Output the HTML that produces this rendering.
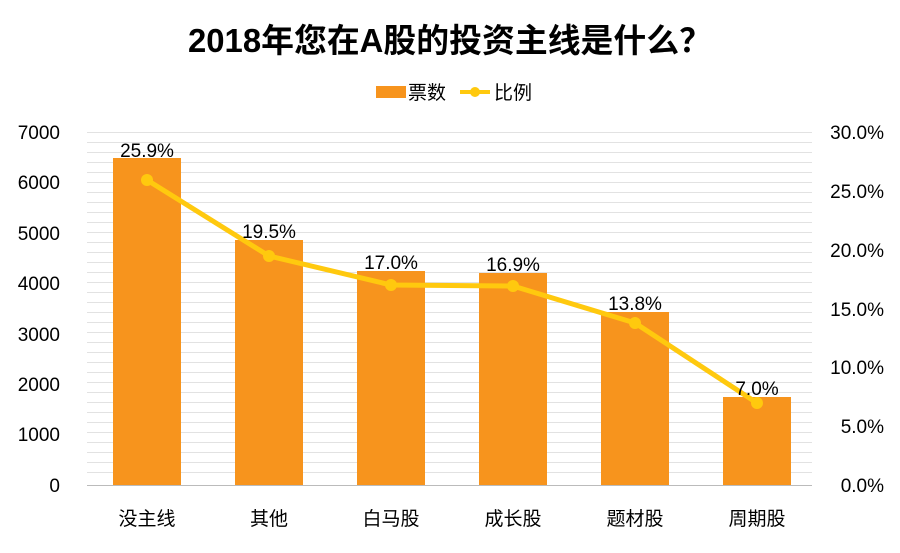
<!DOCTYPE html>
<html><head><meta charset="utf-8"><style>
body{margin:0;background:#fff;width:900px;height:548px;overflow:hidden;font-family:"Liberation Sans","Noto Sans CJK SC",sans-serif}
</style></head><body>
<svg width="900" height="548" xmlns="http://www.w3.org/2000/svg" font-family="Liberation Sans, Noto Sans CJK SC, sans-serif">
<text x="450" y="52" text-anchor="middle" font-size="33" font-weight="bold" fill="#000" textLength="524" lengthAdjust="spacingAndGlyphs">2018年您在A股的投资主线是什么？</text>
<rect x="376" y="86" width="30" height="12" fill="#f7941d"/>
<text x="408" y="99" font-size="19" fill="#000">票数</text>
<line x1="460" y1="92" x2="490" y2="92" stroke="#ffc90e" stroke-width="4"/>
<circle cx="475" cy="92" r="5" fill="#ffc90e"/>
<text x="494" y="99" font-size="19" fill="#000">比例</text>
<g stroke="#e2e2e2" stroke-width="1">
<line x1="87" x2="812" y1="132.5" y2="132.5"/><line x1="87" x2="812" y1="142.5" y2="142.5"/><line x1="87" x2="812" y1="152.5" y2="152.5"/><line x1="87" x2="812" y1="162.5" y2="162.5"/><line x1="87" x2="812" y1="172.5" y2="172.5"/><line x1="87" x2="812" y1="182.5" y2="182.5"/><line x1="87" x2="812" y1="192.5" y2="192.5"/><line x1="87" x2="812" y1="202.5" y2="202.5"/><line x1="87" x2="812" y1="212.5" y2="212.5"/><line x1="87" x2="812" y1="222.5" y2="222.5"/><line x1="87" x2="812" y1="232.5" y2="232.5"/><line x1="87" x2="812" y1="242.5" y2="242.5"/><line x1="87" x2="812" y1="252.5" y2="252.5"/><line x1="87" x2="812" y1="262.5" y2="262.5"/><line x1="87" x2="812" y1="272.5" y2="272.5"/><line x1="87" x2="812" y1="282.5" y2="282.5"/><line x1="87" x2="812" y1="292.5" y2="292.5"/><line x1="87" x2="812" y1="302.5" y2="302.5"/><line x1="87" x2="812" y1="312.5" y2="312.5"/><line x1="87" x2="812" y1="322.5" y2="322.5"/><line x1="87" x2="812" y1="332.5" y2="332.5"/><line x1="87" x2="812" y1="342.5" y2="342.5"/><line x1="87" x2="812" y1="352.5" y2="352.5"/><line x1="87" x2="812" y1="362.5" y2="362.5"/><line x1="87" x2="812" y1="372.5" y2="372.5"/><line x1="87" x2="812" y1="382.5" y2="382.5"/><line x1="87" x2="812" y1="392.5" y2="392.5"/><line x1="87" x2="812" y1="402.5" y2="402.5"/><line x1="87" x2="812" y1="412.5" y2="412.5"/><line x1="87" x2="812" y1="422.5" y2="422.5"/><line x1="87" x2="812" y1="432.5" y2="432.5"/><line x1="87" x2="812" y1="442.5" y2="442.5"/><line x1="87" x2="812" y1="452.5" y2="452.5"/><line x1="87" x2="812" y1="462.5" y2="462.5"/><line x1="87" x2="812" y1="472.5" y2="472.5"/>
</g>
<line x1="87" x2="812" y1="485.5" y2="485.5" stroke="#bbb"/>
<g font-size="19" fill="#000" text-anchor="end">
<text x="60" y="139">7000</text><text x="60" y="189">6000</text><text x="60" y="240">5000</text><text x="60" y="290">4000</text><text x="60" y="341">3000</text><text x="60" y="391">2000</text><text x="60" y="441">1000</text><text x="60" y="492">0</text>
</g>
<g font-size="19" fill="#000" text-anchor="end">
<text x="884" y="139">30.0%</text><text x="884" y="198">25.0%</text><text x="884" y="257">20.0%</text><text x="884" y="316">15.0%</text><text x="884" y="374">10.0%</text><text x="884" y="433">5.0%</text><text x="884" y="492">0.0%</text>
</g>
<g fill="#f7941d">
<rect x="113" y="158" width="68" height="327"/>
<rect x="235" y="240" width="68" height="245"/>
<rect x="357" y="271" width="68" height="214"/>
<rect x="479" y="273" width="68" height="212"/>
<rect x="601" y="312" width="68" height="173"/>
<rect x="723" y="397" width="68" height="88"/>
</g>
<polyline points="147,180 269,256 391,285 513,286 635,323 757,403" fill="none" stroke="#ffc90e" stroke-width="5" stroke-linejoin="round"/>
<g fill="#ffc90e">
<circle cx="147" cy="180" r="6"/><circle cx="269" cy="256" r="6"/><circle cx="391" cy="285" r="6"/><circle cx="513" cy="286" r="6"/><circle cx="635" cy="323" r="6"/><circle cx="757" cy="403" r="6"/>
</g>
<g font-size="19" fill="#000" text-anchor="middle">
<text x="147" y="157">25.9%</text><text x="269" y="238">19.5%</text><text x="391" y="269">17.0%</text><text x="513" y="271">16.9%</text><text x="635" y="310">13.8%</text><text x="757" y="395">7.0%</text>
</g>
<g font-size="19" fill="#000" text-anchor="middle">
<text x="147" y="525">没主线</text><text x="269" y="525">其他</text><text x="391" y="525">白马股</text><text x="513" y="525">成长股</text><text x="635" y="525">题材股</text><text x="757" y="525">周期股</text>
</g>
</svg>
</body></html>
